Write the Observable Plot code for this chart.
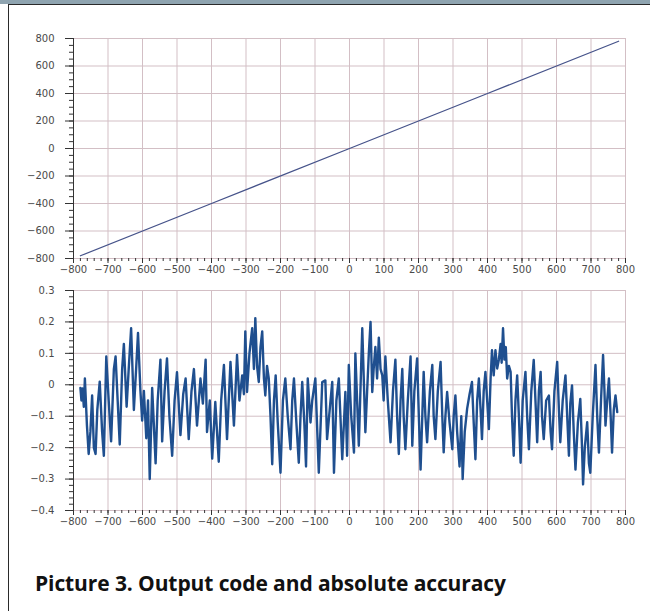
<!DOCTYPE html>
<html><head><meta charset="utf-8">
<script src="https://cdn.jsdelivr.net/npm/d3@7"></script>
<script src="https://cdn.jsdelivr.net/npm/@observablehq/plot@0.6"></script>
<style>
body{margin:0;background:#fff;width:650px;height:611px;overflow:hidden;position:relative;font-family:"DejaVu Sans",sans-serif}
#hdr{position:absolute;left:0;top:0;width:650px;height:4px;background:#8fa4b0}
#frame{position:absolute;left:8px;top:4px;width:642px;height:607px;border-top:1.5px solid #2a2a2a;border-left:1.5px solid #2a2a2a;box-sizing:border-box}
#top{position:absolute;left:0;top:0}
#bot{position:absolute;left:0;top:270px}
#cap{position:absolute;left:35px;top:569px;font:bold 21px "Open Sans",sans-serif;color:#111;white-space:nowrap;letter-spacing:-0.1px}
#top svg text, #bot svg text{font-family:"DejaVu Sans",sans-serif !important;font-size:10px !important}
</style></head>
<body>
<div id="hdr"></div><div id="frame"></div>
<div id="top"></div><div id="bot"></div>
<div id="cap">Picture 3. Output code and absolute accuracy</div>
<script>
// ---- data ----
const codeX = [-780, -400, 0, 400, 780];
const codeY = [-780, -400, 0, 400, 780];

const errX = [-780,-777,-774,-770,-767,-761,-756,-751,-746,-741,-736,-731,-724,-717,-712,-705,-698,-691,-683,-678,-672,-666,-659,-654,-646,-640,-633,-625,-618,-613,-606,-601,-596,-589,-584,-579,-572,-562,-556,-548,-543,-536,-529,-522,-514,-507,-500,-490,-482,-475,-466,-458,-451,-442,-432,-425,-417,-413,-405,-398,-389,-379,-372,-364,-355,-345,-335,-326,-319,-311,-306,-302,-297,-290,-282,-277,-273,-268,-263,-258,-253,-248,-244,-239,-234,-229,-224,-219,-214,-208,-200,-193,-186,-179,-171,-166,-161,-154,-147,-142,-137,-131,-126,-121,-113,-108,-99,-89,-79,-70,-65,-55,-50,-45,-38,-31,-21,-12,-7,-2,5,13,17,27,37,46,51,56,61,66,70,75,80,85,90,95,99,104,111,119,126,133,138,143,148,153,157,162,169,177,182,188,196,201,206,211,215,220,225,233,240,244,249,256,264,269,273,278,283,290,298,302,307,312,319,324,328,334,341,348,355,360,365,370,375,380,384,389,394,399,404,409,413,418,423,428,433,438,441,445,449,453,457,462,467,471,476,481,486,491,496,502,510,515,520,527,534,539,544,549,554,558,563,570,578,583,587,594,602,607,611,618,626,631,636,640,645,650,655,662,669,674,677,682,689,694,698,705,713,718,723,729,735,739,742,747,752,757,761,766,771,776];
const errY = [-0.01,-0.05,-0.012,-0.07,0.02,-0.13,-0.22,-0.15,-0.034,-0.2,-0.22,-0.08,0.01,-0.15,-0.226,0.09,-0.05,-0.18,0.05,0.09,-0.05,-0.19,0.05,0.13,-0.07,0.05,0.18,-0.08,0.06,0.165,-0.02,-0.114,-0.02,-0.17,-0.05,-0.3,-0.01,-0.25,-0.05,0.08,-0.18,-0.02,0.084,-0.1,-0.226,-0.05,0.04,-0.16,-0.03,0.02,-0.173,-0.02,0.05,-0.13,0.02,-0.06,0.08,-0.15,-0.05,-0.235,-0.055,-0.245,-0.05,0.063,-0.173,0.073,-0.13,0.095,-0.05,0.03,-0.03,0.17,-0.023,0.1,0.18,0.05,0.212,0.06,0.009,0.12,0.17,0.02,-0.034,0.06,0.02,-0.1,-0.253,-0.05,0.03,-0.12,-0.28,-0.05,0.02,-0.1,-0.205,-0.05,0.02,-0.12,-0.248,-0.1,0.009,-0.12,-0.26,0.02,-0.12,-0.05,0.02,-0.28,0.009,0.014,-0.173,-0.05,0.009,-0.28,-0.05,0.02,-0.237,-0.023,-0.226,0.063,-0.1,-0.216,0.1,-0.194,0.18,-0.151,-0.023,0.1,0.2,-0.023,0.05,0.12,0.02,0.15,0.05,0.03,-0.05,0.09,-0.05,-0.183,-0.02,0.08,-0.1,-0.22,-0.05,0.05,-0.1,-0.205,-0.05,0.09,-0.194,-0.02,0.084,-0.1,-0.27,-0.1,0.041,-0.1,-0.183,-0.02,0.063,-0.1,-0.173,-0.02,0.073,-0.1,-0.215,-0.1,-0.023,-0.12,-0.205,-0.1,-0.034,-0.15,-0.26,-0.1,-0.3,-0.15,-0.076,-0.03,0.009,-0.12,-0.237,-0.05,0.02,-0.08,-0.173,-0.02,0.041,-0.05,-0.141,0.02,0.11,0.03,0.11,0.052,0.08,0.13,0.07,0.18,0.08,0.12,0.02,0.06,0.041,-0.1,-0.226,-0.05,0.03,-0.1,-0.248,-0.05,0.041,-0.1,-0.205,-0.02,0.079,-0.05,-0.183,-0.02,0.041,-0.1,-0.173,-0.05,-0.034,-0.15,-0.205,-0.02,0.073,-0.08,-0.183,-0.05,0.03,-0.1,-0.226,-0.06,-0.002,-0.15,-0.27,-0.12,-0.045,-0.2,-0.317,-0.2,-0.119,-0.25,-0.28,-0.1,0.063,-0.1,-0.216,-0.05,0.095,-0.02,-0.13,-0.05,0.02,-0.1,-0.216,-0.08,-0.034,-0.087];

const xTicks = [-800,-700,-600,-500,-400,-300,-200,-100,0,100,200,300,400,500,600,700,800];
const xMinor = d3.range(-800, 801, 20);
const topYTicks = [-800,-600,-400,-200,0,200,400,600,800];
const topYMinor = d3.range(-800, 801, 50);
const botYTicks = [-0.4,-0.3,-0.2,-0.1,0,0.1,0.2,0.3];
const botYMinor = d3.range(-20, 16).map(i => i / 50);

// ---- drawing ----
const gridColor = "#d3bfc5";
const axisColor = "#333";
const style = {fontFamily: "DejaVu Sans", fontSize: "10px", color: "#4a4a4a", background: "transparent", overflow: "visible"};
const blank = () => "";
const fmtBot = d => d === 0 ? "0" : d3.format(".1f")(d);

const topPlot = Plot.plot({
  width: 650, height: 280,
  marginTop: 38, marginBottom: 22, marginLeft: 73, marginRight: 25,
  style,
  x: {domain: [-800, 800]},
  y: {domain: [-800, 800]},
  marks: [
    Plot.ruleX(xTicks, {stroke: gridColor}),
    Plot.ruleY(topYTicks, {stroke: gridColor}),
    Plot.axisX(xMinor, {tickSize: 3, tickFormat: blank, label: null, stroke: axisColor}),
    Plot.axisX(xTicks, {tickSize: 5, tickPadding: 2, label: null, stroke: axisColor}),
    Plot.axisY(topYMinor, {tickSize: 4, tickFormat: blank, label: null, stroke: axisColor}),
    Plot.axisY(topYTicks, {tickSize: 8, tickPadding: 11, label: null, stroke: axisColor}),
    Plot.ruleX([-800], {stroke: axisColor}),
    Plot.line(codeX.map((x, i) => ({x, y: codeY[i]})), {x: "x", y: "y", stroke: "#46538a", strokeWidth: 1.3})
  ]
});
document.getElementById("top").append(topPlot);

const botPlot = Plot.plot({
  width: 650, height: 270,
  marginTop: 20, marginBottom: 30, marginLeft: 73, marginRight: 25,
  style,
  x: {domain: [-800, 800]},
  y: {domain: [-0.4, 0.3]},
  marks: [
    Plot.ruleX(xTicks, {stroke: gridColor}),
    Plot.ruleY(botYTicks, {stroke: gridColor}),
    Plot.axisX(xMinor, {tickSize: 3, tickFormat: blank, label: null, stroke: axisColor}),
    Plot.axisX(xTicks, {tickSize: 5, tickPadding: 2, label: null, stroke: axisColor}),
    Plot.axisY(botYMinor, {tickSize: 4, tickFormat: blank, label: null, stroke: axisColor}),
    Plot.axisY(botYTicks, {tickSize: 8, tickPadding: 11, tickFormat: fmtBot, label: null, stroke: axisColor}),
    Plot.ruleX([-800], {stroke: axisColor}),
    Plot.line(errX.map((x, i) => ({x, y: errY[i]})), {x: "x", y: "y", stroke: "#1f4f8f", strokeWidth: 2.4, strokeLinejoin: "round"})
  ]
});
document.getElementById("bot").append(botPlot);
</script>
</body></html>
